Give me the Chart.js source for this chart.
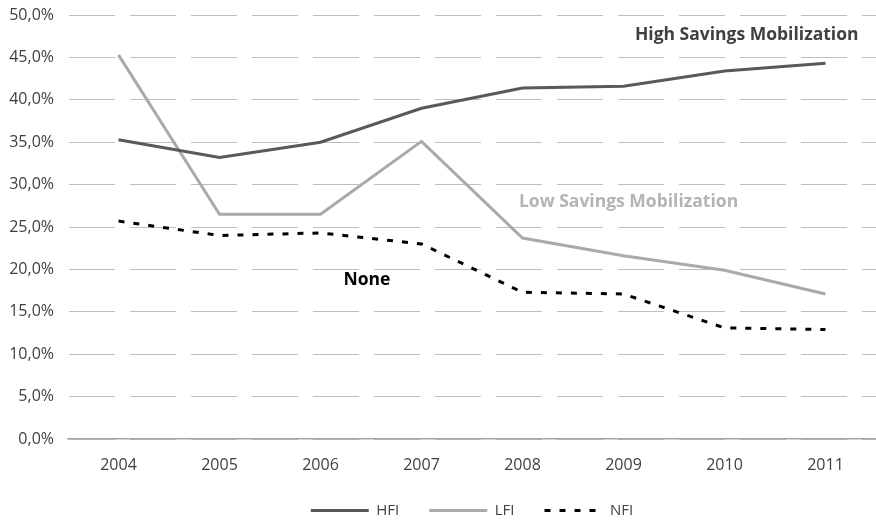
<!DOCTYPE html>
<html>
<head>
<meta charset="utf-8">
<script src="https://cdn.jsdelivr.net/npm/chart.js@4"></script>
<style>
  html, body { margin: 0; padding: 0; background: #fff; }
  #wrap { width: 876px; height: 521px; }
</style>
</head>
<body>
<div id="wrap"><canvas id="chart"></canvas></div>
<script>
// years on the x axis
const years = ['2004', '2005', '2006', '2007', '2008', '2009', '2010', '2011'];

// shares in percent
const hfiValues = [35.3, 33.2, 35.0, 39.0, 41.4, 41.6, 43.4, 44.3];
const lfiValues = [45.3, 26.5, 26.5, 35.1, 23.7, 21.6, 19.9, 17.1];
const nfiValues = [25.7, 24.0, 24.3, 23.0, 17.3, 17.1, 13.1, 12.9];

// text labels placed inside the plot (x = category index, y = percent)
const noteTexts = ['High Savings Mobilization', 'Low Savings Mobilization', 'None'];
const noteX = [6.22, 5.05, 2.46];
const noteY = [47.6, 27.9, 18.8];
const noteColors = ['#404040', '#b4b4b4', '#000000'];

const FONT = "'Open Sans', sans-serif";

// draws the in-plot notes through the chart's own scales
const notesPlugin = {
  id: 'notes',
  afterDatasetsDraw(chart) {
    const { ctx, scales } = chart;
    ctx.save();
    ctx.font = 'bold 17.5px ' + FONT;
    ctx.textAlign = 'center';
    ctx.textBaseline = 'middle';
    noteTexts.forEach((t, i) => {
      ctx.fillStyle = noteColors[i];
      ctx.fillText(t, scales.x.getPixelForValue(noteX[i]), scales.y.getPixelForValue(noteY[i]));
    });
    ctx.restore();
  }
};

new Chart(document.getElementById('chart'), {
  type: 'line',
  data: {
    labels: years,
    datasets: [
      { label: 'HFI', data: hfiValues, borderColor: '#595959', borderWidth: 3, pointRadius: 0, tension: 0 },
      { label: 'LFI', data: lfiValues, borderColor: '#aaaaaa', borderWidth: 3, pointRadius: 0, tension: 0 },
      { label: 'NFI', data: nfiValues, borderColor: '#000000', borderWidth: 3, borderDash: [6, 9], pointRadius: 0, tension: 0 }
    ]
  },
  options: {
    responsive: true,
    maintainAspectRatio: false,
    animation: false,
    layout: { padding: { top: 0, right: 0, left: 0, bottom: -7 } },
    plugins: {
      tooltip: { enabled: false },
      legend: {
        position: 'bottom',
        fullSize: false,
        labels: {
          usePointStyle: true,
          pointStyle: 'line',
          pointStyleWidth: 58,
          boxWidth: 58,
          boxHeight: 3,
          color: '#404040',
          font: { family: FONT, size: 15 },
          padding: 30,
          generateLabels(chart) {
            const items = Chart.defaults.plugins.legend.labels.generateLabels(chart);
            items.forEach(item => {
              const ds = chart.data.datasets[item.datasetIndex];
              item.strokeStyle = ds.borderColor;
              item.lineWidth = 3;
              item.lineDash = ds.borderDash || [];
            });
            return items;
          }
        }
      }
    },
    scales: {
      x: {
        offset: true,
        afterFit(scale) { scale.height = 34; },
        grid: { display: false },
        border: { display: true, color: '#a6a6a6', width: 1.5 },
        ticks: { color: '#404040', font: { family: FONT, size: 16 }, padding: 9 }
      },
      y: {
        min: 0,
        max: 50,
        afterFit(scale) {
          scale.width = 68;
          scale.paddingTop = 15;
          scale.paddingBottom = 0;
        },
        ticks: {
          stepSize: 5,
          color: '#404040',
          padding: 14,
          font: { family: FONT, size: 16 },
          callback: v => v.toFixed(1).replace('.', ',') + '%'
        },
        grid: { drawTicks: false, color: '#bfbfbf', lineWidth: 1, borderDash: [46, 15] },
        border: { display: true, color: 'rgba(0,0,0,0)', width: 1, dash: [46, 15] }
      }
    }
  },
  plugins: [notesPlugin]
});
</script>
</body>
</html>
